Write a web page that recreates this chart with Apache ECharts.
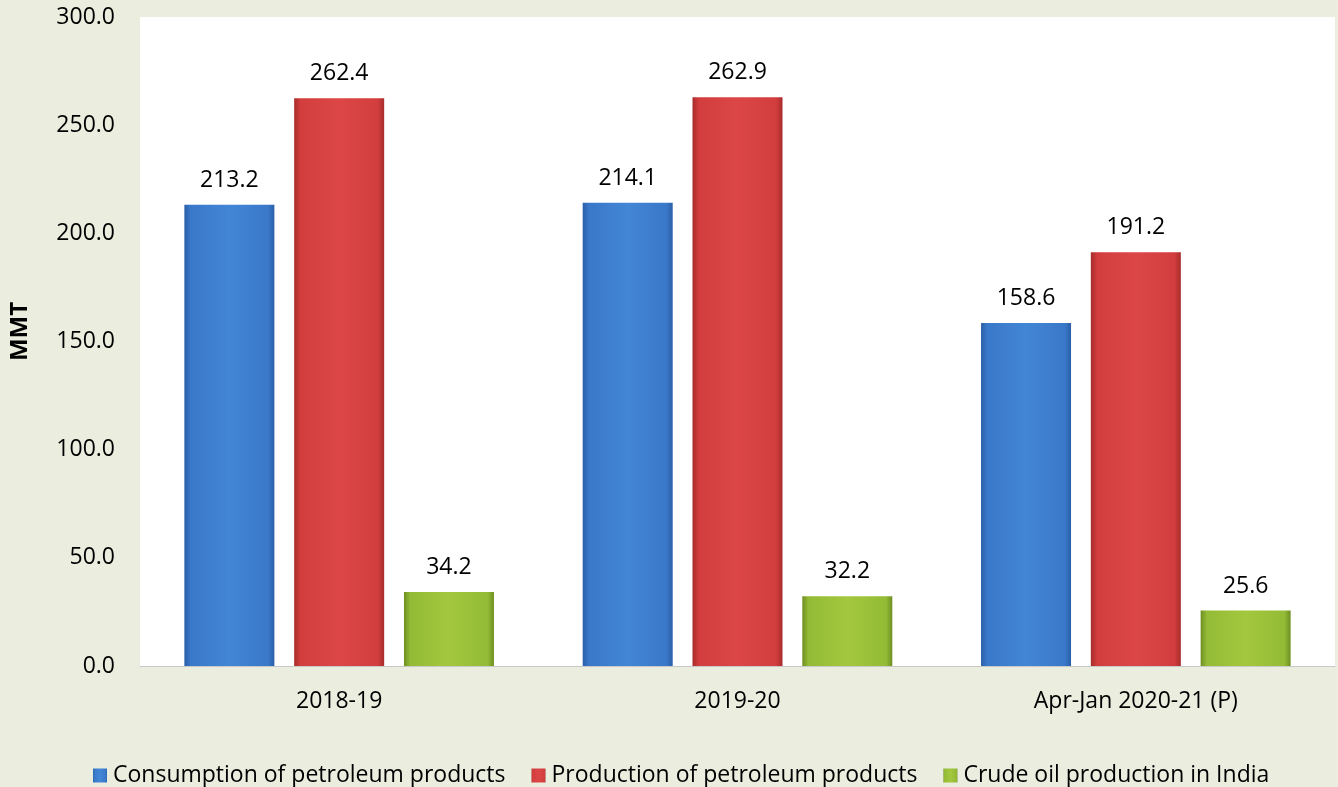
<!DOCTYPE html>
<html>
<head>
<meta charset="utf-8">
<script src="https://cdn.jsdelivr.net/npm/echarts@6/dist/echarts.min.js"></script>
<style>
html,body{margin:0;padding:0;background:#ebeedf;}
#chart{width:1338px;height:787px;}
</style>
</head>
<body>
<div id="chart"></div>
<script>
const categories = ['2018-19', '2019-20', 'Apr-Jan 2020-21 (P)'];
const consumption = [213.2, 214.1, 158.6];
const production = [262.4, 262.9, 191.2];
const crude = [34.2, 32.2, 25.6];
const seriesNames = ['Consumption of petroleum products', 'Production of petroleum products', 'Crude oil production in India'];

const FONT = '"Open Sans", "Liberation Sans", sans-serif';

function grad(dark, mid, light) {
  return new echarts.graphic.LinearGradient(0, 0, 1, 0, [
    {offset: 0, color: dark},
    {offset: 0.07, color: mid},
    {offset: 0.5, color: light},
    {offset: 0.93, color: mid},
    {offset: 1, color: dark}
  ]);
}

const chart = echarts.init(document.getElementById('chart'));
const labelBase = {show: true, position: 'top', distance: 13, color: '#000', fontFamily: FONT, fontSize: 23, formatter: p => p.value.toFixed(1)};

chart.setOption({
  backgroundColor: '#ebeedf',
  animation: false,
  grid: {left: 140, right: 3, top: 17, bottom: 121, show: true, backgroundColor: '#ffffff', borderWidth: 0},
  legend: {
    top: 759, left: 88, itemWidth: 14, itemHeight: 14, itemGap: 26,
    icon: 'rect',
    textStyle: {fontFamily: FONT, fontSize: 23, color: '#000', padding: [0, 0, 0, 1]},
    data: seriesNames
  },
  xAxis: {
    type: 'category', data: categories,
    axisLine: {lineStyle: {color: '#c8c8c8', width: 1}},
    axisTick: {show: false},
    axisLabel: {color: '#000', fontFamily: FONT, fontSize: 23, margin: 24}
  },
  yAxis: {
    type: 'value', min: 0, max: 300, interval: 50,
    name: 'MMT', nameLocation: 'middle', nameGap: 108, nameRotate: 90,
    nameTextStyle: {fontFamily: FONT, fontSize: 24, fontWeight: 'bold', color: '#000', padding: [0, 0, 0, 20]},
    splitLine: {show: false}, axisLine: {show: false}, axisTick: {show: false},
    axisLabel: {color: '#000', fontFamily: FONT, fontSize: 23, margin: 25, formatter: v => v.toFixed(1)}
  },
  series: [
    {
      name: seriesNames[0], type: 'bar', barWidth: 90, barGap: '22%',
      itemStyle: {color: grad('#2a5fa8', '#3a78c9', '#4386d6')},
      data: consumption, label: labelBase
    },
    {
      name: seriesNames[1], type: 'bar', barWidth: 90, barGap: '22%',
      itemStyle: {color: grad('#a82c2c', '#d23d3d', '#dc4646')},
      data: production, label: labelBase
    },
    {
      name: seriesNames[2], type: 'bar', barWidth: 90, barGap: '22%',
      itemStyle: {color: grad('#6f8f22', '#94bb35', '#a3c83f')},
      data: crude, label: labelBase
    }
  ]
});
</script>
</body>
</html>
